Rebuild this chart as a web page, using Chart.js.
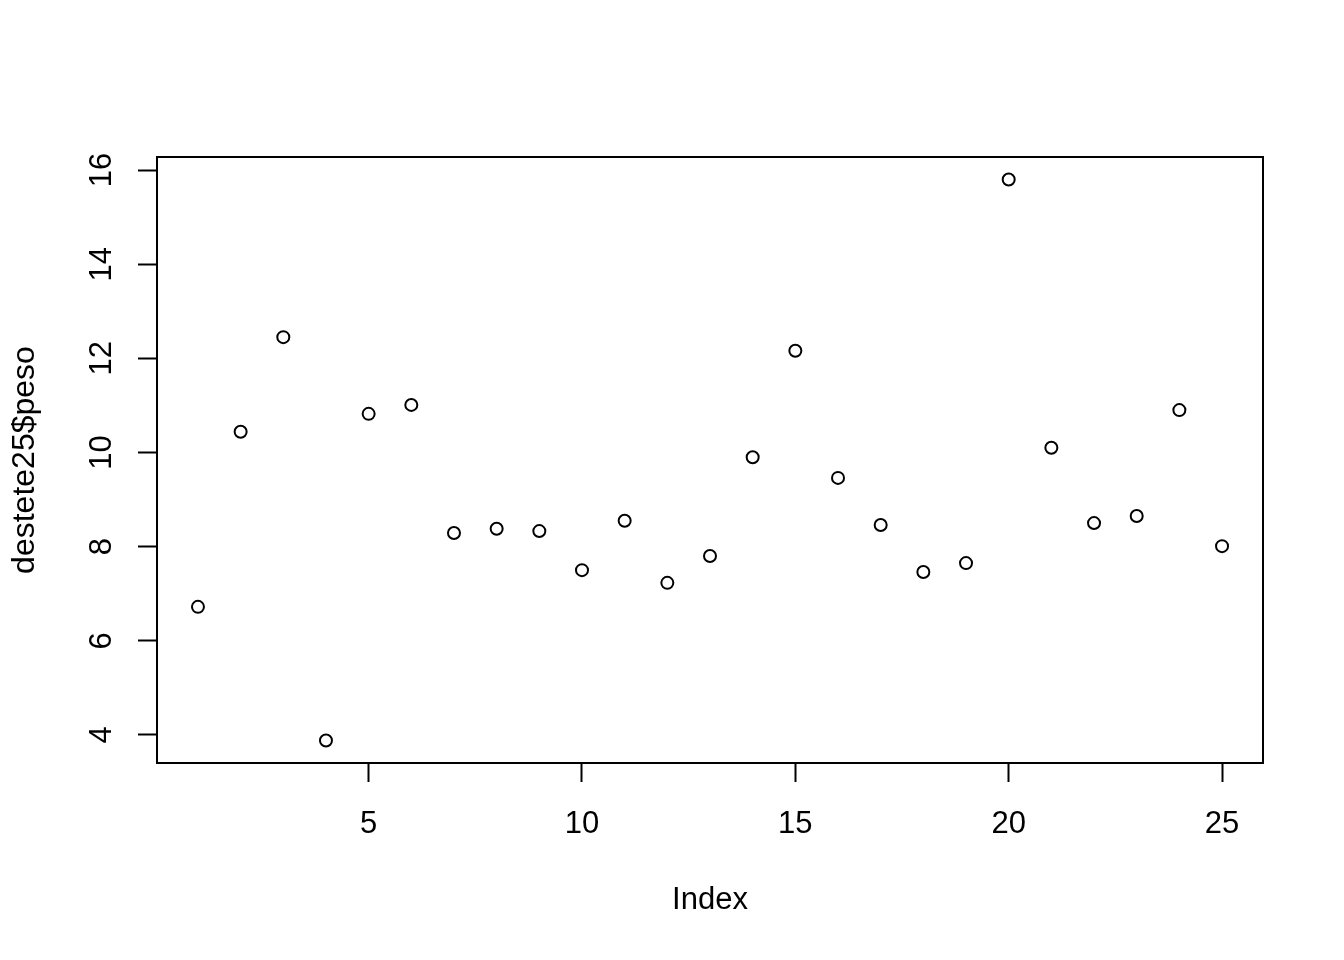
<!DOCTYPE html>
<html>
<head>
<meta charset="utf-8">
<script src="https://cdn.jsdelivr.net/npm/chart.js@4/dist/chart.umd.min.js"></script>
<style>
  body { margin: 0; background: #fff; }
</style>
</head>
<body>
<canvas id="plot" width="1344" height="960"></canvas>
<script>
// destete25$peso plotted against its index
const index = [1, 2, 3, 4, 5, 6, 7, 8, 9, 10, 11, 12, 13, 14, 15, 16, 17, 18, 19, 20, 21, 22, 23, 24, 25]
const peso = [6.72, 10.44, 12.45, 3.88, 10.82, 11.01, 8.29, 8.38, 8.33, 7.50, 8.55, 7.23, 7.80,
    9.90, 12.16, 9.46, 8.46, 7.46, 7.65, 15.80, 10.10, 8.50, 8.65, 10.90, 8.01]
const xTicks = [5, 10, 15, 20, 25]
const yTicks = [4, 6, 8, 10, 12, 14, 16]

const fontFamily = '"Liberation Sans", Arial, sans-serif'

// R style: axes extend 4% beyond the data range
const pad = (lo, hi) => [lo - (hi - lo) * 0.04, hi + (hi - lo) * 0.04]
const [xMin, xMax] = pad(Math.min(...index), Math.max(...index))
const [yMin, yMax] = pad(Math.min(...peso), Math.max(...peso))

const boxPlugin = {
    id: 'box',
    afterDraw(chart) {
        const { ctx, chartArea: a } = chart
        ctx.save()
        ctx.strokeStyle = '#000'
        ctx.lineWidth = 2
        ctx.strokeRect(a.left, a.top, a.right - a.left, a.bottom - a.top)
        ctx.restore()
    }
}

const ctx = document.getElementById('plot').getContext('2d')

const chart = new Chart(ctx, {
    type: 'scatter',
    data: {
        datasets: [{
            label: 'destete25$peso',
            data: index.map((x, i) => ({ x: x, y: peso[i] })),
            pointStyle: 'circle',
            pointRadius: 6,
            pointHoverRadius: 6,
            borderColor: '#000',
            backgroundColor: 'rgba(0,0,0,0)',
            borderWidth: 2
        }]
    },
    plugins: [boxPlugin],
    options: {
        responsive: false,
        animation: false,
        layout: {
            padding: { top: 157, right: 81, left: 0, bottom: 0 }
        },
        plugins: {
            legend: { display: false },
            tooltip: { enabled: false }
        },
        scales: {
            x: {
                type: 'linear',
                min: xMin,
                max: xMax,
                afterBuildTicks: (s) => { s.ticks = xTicks.map(v => ({ value: v })) },
                afterFit: (s) => { s.height = 197 },
                border: { display: false },
                grid: {
                    drawOnChartArea: false,
                    drawTicks: true,
                    tickLength: 19,
                    tickWidth: 2,
                    tickColor: '#000'
                },
                ticks: {
                    color: '#000',
                    padding: 24,
                    maxRotation: 0,
                    font: { family: fontFamily, size: 31 }
                },
                title: {
                    display: true,
                    text: 'Index',
                    color: '#000',
                    font: { family: fontFamily, size: 31 },
                    padding: { top: 0, bottom: 41 }
                }
            },
            y: {
                type: 'linear',
                min: yMin,
                max: yMax,
                afterBuildTicks: (s) => { s.ticks = yTicks.map(v => ({ value: v })) },
                afterFit: (s) => { s.width = 157 },
                border: { display: false },
                grid: {
                    drawOnChartArea: false,
                    drawTicks: true,
                    tickLength: 19,
                    tickWidth: 2,
                    tickColor: '#000'
                },
                ticks: {
                    color: '#000',
                    padding: 18,
                    minRotation: 90,
                    maxRotation: 90,
                    crossAlign: 'center',
                    font: { family: fontFamily, size: 31 }
                },
                title: {
                    display: true,
                    text: 'destete25$peso',
                    color: '#000',
                    font: { family: fontFamily, size: 32 },
                    padding: { top: 6, bottom: 0 }
                }
            }
        }
    }
})
</script>
</body>
</html>
